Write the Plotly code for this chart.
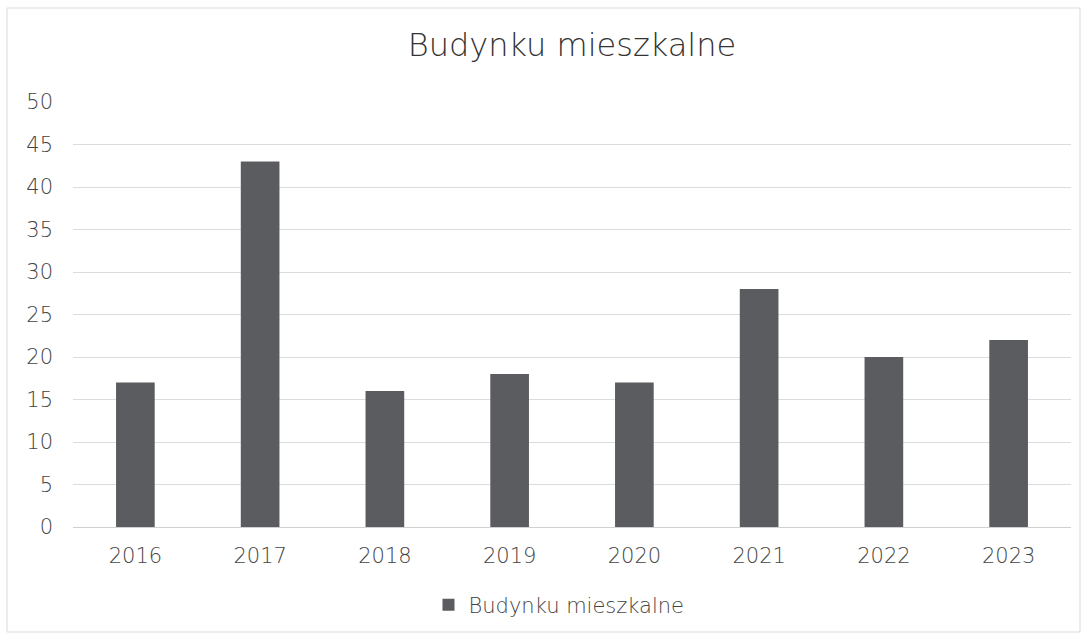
import plotly.graph_objects as go

years = ["2016", "2017", "2018", "2019", "2020", "2021", "2022", "2023"]
buildings = [17, 43, 16, 18, 17, 28, 20, 22]
series_name = "Budynku mieszkalne"
y_ticks = [0, 5, 10, 15, 20, 25, 30, 35, 40, 45, 50]

W, H = 1086, 639
L, R, T, B = 73, 15, 102, 112
pw, ph = W - L - R, H - T - B

def px(x):
    return (x - L) / pw

def py(y):
    return (H - B - y) / ph

fig = go.Figure()
fig.add_trace(go.Bar(
    x=years,
    y=buildings,
    name=series_name,
    marker=dict(color="#5b5c60", line=dict(width=0)),
    showlegend=True,
))

font_family = "'DejaVu Sans', sans-serif"
label_font = dict(family=font_family, size=21, color="#444444", weight=200)

fig.update_layout(
    width=W,
    height=H,
    margin=dict(l=L, r=R, t=T, b=B),
    paper_bgcolor="white",
    plot_bgcolor="white",
    bargap=0.69,
    title=dict(
        text=series_name,
        x=0.5,
        xref="paper",
        y=1 - 45 / H,
        yanchor="middle",
        font=dict(family=font_family, size=32, color="#333333", weight=200),
    ),
    xaxis=dict(
        showgrid=False,
        showline=False,
        ticks="",
        ticklabelstandoff=14,
        tickfont=label_font,
    ),
    yaxis=dict(
        range=[0, 50],
        tickvals=y_ticks,
        showgrid=True,
        gridcolor="#dcdcdc",
        gridwidth=1,
        zeroline=True,
        zerolinecolor="#d0d0d0",
        zerolinewidth=1,
        showline=False,
        ticks="",
        ticklabelstandoff=19,
        tickfont=label_font,
    ),
    legend=dict(
        orientation="h",
        x=px(559),
        xanchor="center",
        y=py(605),
        yanchor="middle",
        font=label_font,
        itemwidth=30,
    ),
    shapes=[
        dict(
            type="rect",
            xref="paper", yref="paper",
            x0=px(7), x1=px(1080), y0=py(632), y1=py(8),
            line=dict(color="#d9d9d9", width=1),
            fillcolor="rgba(0,0,0,0)",
            layer="below",
        )
    ],
)

fig.write_html("out.html")
